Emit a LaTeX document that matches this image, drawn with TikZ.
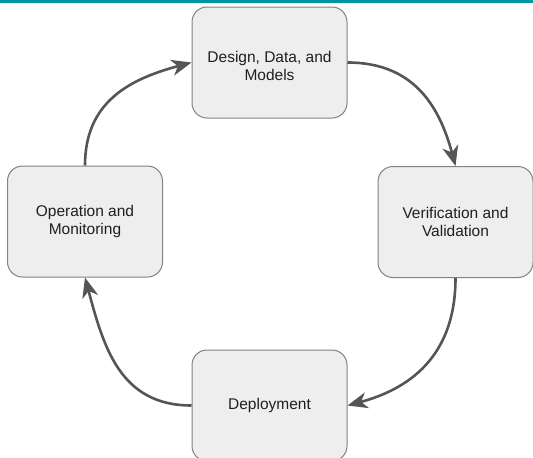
\documentclass[tikz,border=0pt]{standalone}
\usepackage{fontspec}
\setmainfont{Liberation Sans}
\usetikzlibrary{arrows.meta}
\definecolor{barteal}{RGB}{0,150,155}
\definecolor{boxfill}{RGB}{238,238,238}
\definecolor{boxline}{RGB}{130,130,130}
\definecolor{arrowgray}{RGB}{85,85,85}
\tikzset{
  stagebox/.style={draw=boxline, fill=boxfill, line width=1pt, rounded corners=15pt,
    minimum width=155pt, minimum height=111pt, align=center, text=black!88,
    font=\fontsize{15.5}{18.5}\selectfont, inner sep=0pt},
  stagetext/.style={align=center, text=black!88, font=\fontsize{15.5}{18.5}\selectfont, inner sep=0pt},
  flow/.style={draw=arrowgray, line width=2.6pt, -{Stealth[length=20pt,width=16pt,inset=6pt]}}
}
\begin{document}
\begin{tikzpicture}[x=1pt,y=-1pt]
\useasboundingbox (0,0) rectangle (533,458);
\clip (0,0) rectangle (533,458);
\fill[barteal] (0,0) rectangle (533,2.5);
\node[stagebox] (design) at (269.5,62.5) {};
\node[stagetext] (designtext) at ([yshift=-3.5pt]design.center) {Design, Data, and\\Models};
\node[stagebox] (verif) at (455.5,222) {Verification and\\Validation};
\node[stagebox] (deploy) at (269.5,405.5) {Deployment};
\node[stagebox] (oper) at (85,221.5) {Operation and\\Monitoring};
\draw[flow] (design.east) to[out=0,in=105,looseness=1.1] (verif.north);
\draw[flow] (verif.south) to[out=-90,in=15,looseness=1.1] (deploy.east);
\draw[flow] (deploy.west) to[out=180,in=-75,looseness=1.1] (oper.south);
\draw[flow] (oper.north) to[out=90,in=195,looseness=1.1] (design.west);
\end{tikzpicture}
\end{document}
